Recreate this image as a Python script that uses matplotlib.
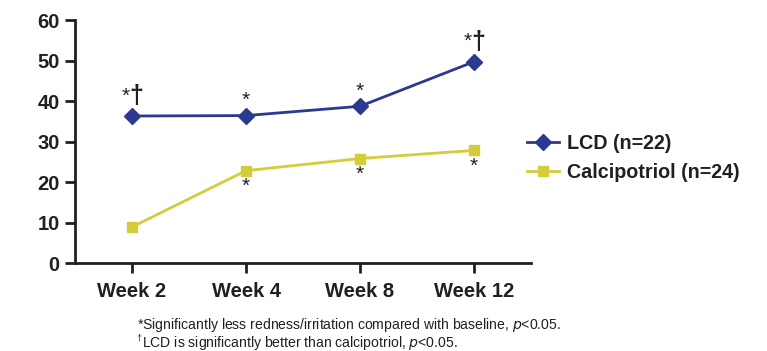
import matplotlib.pyplot as plt
import numpy as np

plt.rcParams['font.family'] = ['Liberation Sans', 'DejaVu Sans']

weeks = ['Week 2', 'Week 4', 'Week 8', 'Week 12']
lcd = [36.3, 36.4, 38.7, 49.7]
calci = [8.9, 22.8, 25.8, 27.8]
lcd_marks = ['*†', '*', '*', '*†']
calci_marks = ['', '*', '*', '*']
yticks = [0, 10, 20, 30, 40, 50, 60]

dark = '#231f20'
blue = '#2b3990'
yellow = '#d4cc3a'

fig = plt.figure(figsize=(7.67, 3.51), dpi=100)
ax = fig.add_axes([0.0978, 0.2507, 0.5945, 0.6923])

x = np.arange(len(weeks))
ax.plot(x, lcd, color=blue, lw=2, marker='D', ms=8, mec=blue, label='LCD (n=22)')
ax.plot(x, calci, color=yellow, lw=2, marker='s', ms=7.5, mec=yellow, label='Calcipotriol (n=24)')

for xi, v, m in zip(x, lcd, lcd_marks):
    if m == '*†':
        ax.text(xi - 0.02, v + 2.6, '*', ha='right', va='bottom', fontsize=15, color=dark)
        ax.text(xi - 0.02, v + 2.0, '†', ha='left', va='bottom', fontsize=18, color=dark, fontweight='bold')
    else:
        ax.text(xi, v + 1.4, m, ha='center', va='bottom', fontsize=15, color=dark)
for xi, v, m in zip(x, calci, calci_marks):
    if m:
        ax.text(xi, v - 1.6, m, ha='center', va='top', fontsize=15, color=dark)

ax.set_xlim(-0.5, 3.5)
ax.set_ylim(0, 60)
ax.set_xticks(x)
ax.set_xticklabels(weeks, fontsize=14.5, fontweight='bold', color=dark)
ax.set_yticks(yticks)
ax.set_yticklabels([str(t) for t in yticks], fontsize=14.5, fontweight='bold', color=dark)
ax.tick_params(axis='both', direction='out', length=7, width=2, color=dark, pad=4)
ax.tick_params(axis='x', pad=7)

for s in ['top', 'right']:
    ax.spines[s].set_visible(False)
for s in ['left', 'bottom']:
    ax.spines[s].set_linewidth(2)
    ax.spines[s].set_color(dark)

leg = fig.legend(*ax.get_legend_handles_labels(), loc='center left',
                 bbox_to_anchor=(0.687, 0.551), frameon=False,
                 prop={'size': 14.2, 'weight': 'bold'}, handlelength=1.65,
                 handletextpad=0.4, labelspacing=0.5, borderpad=0, borderaxespad=0)
for t in leg.get_texts():
    t.set_color(dark)

# footnotes
fig.text(0.178, 0.062, '*Significantly less redness/irritation compared with baseline, $\\it{p}$<0.05.',
         fontsize=10.1, color=dark, va='baseline')
fig.text(0.178, 0.030, '†', fontsize=6.5, color=dark, va='baseline')
fig.text(0.1845, 0.012, 'LCD is significantly better than calcipotriol, $\\it{p}$<0.05.',
         fontsize=10.1, color=dark, va='baseline')

fig.savefig('out.png', dpi=100)
